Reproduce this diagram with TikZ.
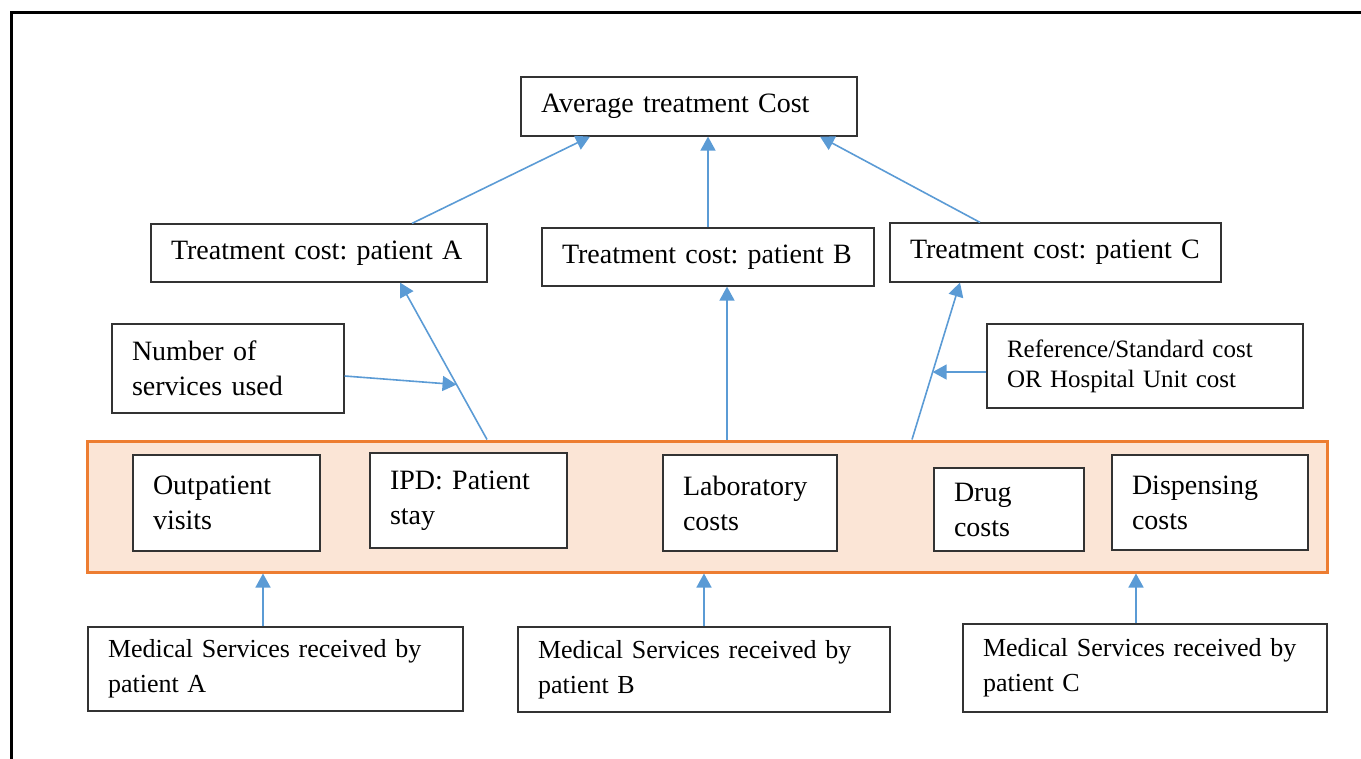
\documentclass[tikz,border=0pt]{standalone}
\usepackage{fontspec}
\setmainfont{Liberation Serif}
\usepackage{tikz}
\usetikzlibrary{arrows.meta}
\definecolor{flowblue}{HTML}{5B9BD5}
\definecolor{bandorange}{HTML}{ED7D31}
\definecolor{bandfill}{HTML}{FBE5D6}
\newcommand{\boxfont}{\frenchspacing\fontsize{14}{17.5}\selectfont}
\tikzset{
  costbox/.style  = {draw=black!80,fill=white,line width=0.6pt,align=left,
                     inner xsep=10pt,inner ysep=0pt,font=\boxfont},
  smallbox/.style = {costbox,font=\fontsize{12.5}{15}\selectfont},
  servbox/.style  = {costbox,font=\fontsize{13}{17.5}\selectfont},
  flowarr/.style  = {-{Triangle[length=7pt,width=7.5pt]},flowblue,line width=0.8pt},
  bandbox/.style  = {draw=bandorange,fill=bandfill,line width=1.5pt}
}

\begin{document}
\begin{tikzpicture}[x=0.5pt,y=-0.5pt]
  \useasboundingbox (0,0) rectangle (1361,759);
  \draw[line width=1.5pt] (11,759) -- (11,12.5) -- (1361,12.5);
  % cost items
  \node[bandbox,minimum width=620pt,minimum height=65.5pt] (band) at (707,506.5) {};
  \node[costbox,text width=73.5pt,minimum height=48pt]   (outpat) at (226.5,503)  {Outpatient\\visits};
  \node[costbox,text width=78.5pt,minimum height=47.5pt] (ipd)    at (468.5,500.5) {IPD: Patient\\stay};
  \node[costbox,text width=67pt,minimum height=48pt]     (lab)    at (750,503)    {Laboratory\\costs};
  \node[costbox,text width=55pt,minimum height=41.5pt]   (drug)   at (1009,509.5) {Drug\\costs};
  \node[costbox,text width=78pt,minimum height=47.5pt]   (disp)   at (1210,502.5) {Dispensing\\costs};
  % totals
  \node[costbox,text width=148pt,minimum height=29.5pt]  (avg)   at (689,106.5)   {Average treatment Cost};
  \node[costbox,text width=148pt,minimum height=29pt]    (costA) at (319,253)     {Treatment cost: patient A};
  \node[costbox,text width=146pt,minimum height=29pt]    (costB) at (708,257)     {Treatment cost: patient B};
  \node[costbox,text width=145.5pt,minimum height=29.5pt] (costC) at (1055.5,252.5) {Treatment cost: patient C};
  \node[costbox,text width=96pt,minimum height=44.5pt]   (usage) at (228,368.5)   {Number of\\services used};
  \node[smallbox,text width=138pt,minimum height=42pt]   (unitcost) at (1145,366) {Reference/Standard cost\\OR Hospital Unit cost};
  % services received
  \node[servbox,text width=167.5pt,minimum height=42pt]  (servA) at (275.5,669) {Medical Services received by\\patient A};
  \node[servbox,text width=166pt,minimum height=42.5pt]  (servB) at (704,669.5)  {Medical Services received by\\patient B};
  \node[servbox,text width=162pt,minimum height=44pt]    (servC) at (1145,668)   {Medical Services received by\\patient C};

  \draw[flowarr] ([xshift=46.5pt]costA.north) -- ([xshift=-49.5pt]avg.south);
  \draw[flowarr] (costB.north) -- (costB.north |- avg.south);
  \draw[flowarr] ([xshift=-37.75pt]costC.north) -- ([xshift=65.5pt]avg.south);
  \draw[flowarr] ([xshift=-110pt]band.north) -- coordinate[pos=0.35] (joinA) ([xshift=40.5pt]costA.south);
  \draw[flowarr] ([xshift=10pt]band.north) -- ([xshift=10pt]band.north |- costB.south);
  \draw[flowarr] ([xshift=102.5pt]band.north) -- coordinate[pos=0.43] (joinC) ([xshift=-47.75pt]costC.south);
  \draw[flowarr] ([yshift=-3.75pt]usage.east) -- (joinA);
  \draw[flowarr] (unitcost.west |- joinC) -- (joinC);
  \draw[flowarr] ([xshift=-6.25pt]servA.north) -- ([xshift=-6.25pt]servA.north |- band.south);
  \draw[flowarr] (servB.north) -- (servB.north |- band.south);
  \draw[flowarr] ([xshift=-4.5pt]servC.north) -- ([xshift=-4.5pt]servC.north |- band.south);
\end{tikzpicture}
\end{document}
